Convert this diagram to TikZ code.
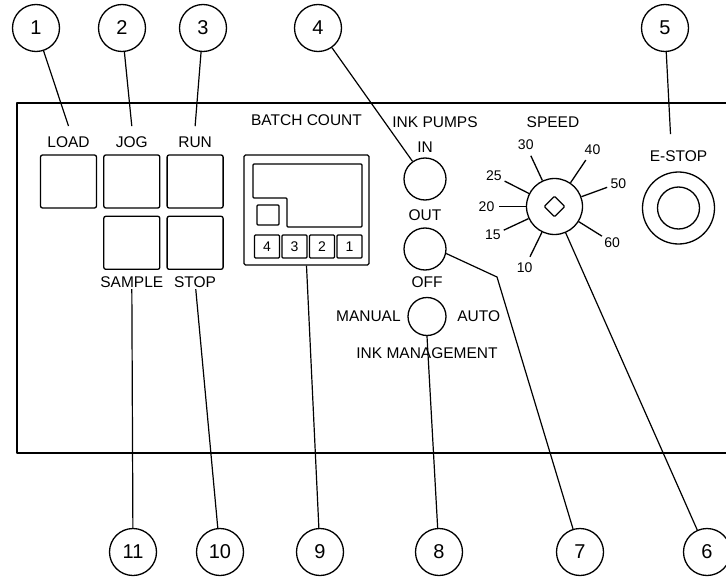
\documentclass[tikz,border=0pt]{standalone}
\usepackage{fontspec}
\setmainfont{Liberation Sans}
\usetikzlibrary{positioning,calc,shapes.geometric}

\begin{document}
\begin{tikzpicture}[x=1pt, y=-1pt,
  line width=1.3pt, line join=round,
  callout/.style={draw, circle, minimum size=47pt, inner sep=0pt, font=\fontsize{20}{20}\selectfont},
  pad/.style={draw, rounded corners=2pt, minimum width=56pt, minimum height=53pt, inner sep=0pt},
  knob/.style={draw, circle, minimum size=42pt, inner sep=0pt},
  lbl/.style={inner sep=1pt, font=\fontsize{15.5}{15.5}\selectfont},
  scalenum/.style={inner sep=0pt, font=\fontsize{14}{14}\selectfont},
  digit/.style={draw, rounded corners=1pt, minimum width=25pt, minimum height=23pt, inner sep=0pt, font=\fontsize{14}{14}\selectfont},
  lead/.style={line width=1.2pt}]
\useasboundingbox (0,0) rectangle (726,578);
\draw[line width=1.6pt] (740,103) -- (17,103) -- (17,453) -- (740,453);
\node[callout] (c1) at (36,28) {1};
\node[callout] (c2) at (122,28) {2};
\node[callout] (c3) at (203,28) {3};
\node[callout] (c4) at (318,28) {4};
\node[callout] (c5) at (665,28) {5};
\node[callout] (c11) at (133,552) {11};
\node[callout] (c10) at (220,552) {10};
\node[callout] (c9) at (320,552) {9};
\node[callout] (c8) at (439,552) {8};
\node[callout] (c7) at (580,552) {7};
\node[callout] (c6) at (707,552) {6};
\node[pad] (load) at (68.5,181.5) {};
\node[pad, right=6pt of load] (jog) {};
\node[pad, right=6pt of jog] (run) {};
\node[pad, below=7pt of jog] (sample) {};
\node[pad, below=7pt of run] (stop) {};
\node[lbl, above=5pt of load] (loadlbl) {LOAD};
\node[lbl, above=5pt of jog] (joglbl) {JOG};
\node[lbl, above=5pt of run] (runlbl) {RUN};
\node[lbl, below=5pt of sample] (samplelbl) {SAMPLE};
\node[lbl, below=5pt of stop] (stoplbl) {STOP};
\node[draw, rounded corners=1.5pt, minimum width=125pt, minimum height=110pt] (bcbox) at (306.5,210) {};
\node[lbl, above=27pt of bcbox] (bclbl) {BATCH COUNT};
\draw[rounded corners=1pt] (253,164) -- (362,164) -- (362,227) -- (287,227) -- (287,198) -- (253,198) -- cycle;
\node[draw, rounded corners=1pt, minimum width=22pt, minimum height=20pt] (bcsmall) at (268,215) {};
\foreach \d [count=\i from 0] in {4,3,2,1}
  \node[digit] (digit\d) at ({267+27.5*\i},246.5) {\d};
\node[lbl] (pumpslbl) at (435,122) {INK PUMPS};
\node[knob] (inkin) at (425,179) {};
\node[lbl, above=3pt of inkin] (inlbl) {IN};
\node[knob] (inkout) at (425,249) {};
\node[lbl, above=5pt of inkout] (outlbl) {OUT};
\node[knob, minimum size=38pt] (mode) at (427,316.5) {};
\node[lbl, above=8pt of mode] (offlbl) {OFF};
\node[lbl, left=5pt of mode] (manuallbl) {MANUAL};
\node[lbl, right=9pt of mode] (autolbl) {AUTO};
\node[lbl, below=10pt of mode] (mgmtlbl) {INK MANAGEMENT};
\node[lbl] (speedlbl) at (553,122) {SPEED};
\node[knob, minimum size=56pt] (dial) at (554.5,206.5) {};
\node[draw, diamond, minimum size=21pt, inner sep=0pt, rounded corners=1pt] (hub) at (dial) {};
\foreach \a/\v in {180/20,153/25,115/30,56/40,20/50,-32/60,-116/10,-155/15} {
  \draw (dial.\a) -- ($(dial.center)+(\a:56pt)$);
  \node[scalenum] at ($(dial.center)+(\a:68pt)$) {\v};
}
\node[draw, circle, minimum size=72pt] (estop) at (678.5,208) {};
\node[draw, circle, minimum size=42pt] (estopcap) at (estop) {};
\node[lbl, above=8pt of estop] (estoplbl) {E-STOP};
\coordinate (bend7) at (497,277);
\draw[lead] (c1) -- ([yshift=9pt]loadlbl.north);
\draw[lead] (c2) -- ([yshift=9pt]joglbl.north);
\draw[lead] (c3) -- ([yshift=9pt]runlbl.north);
\draw[lead] (c4) -- (inkin);
\draw[lead] (c5) -- ([xshift=-8pt,yshift=15pt]estoplbl.north);
\draw[lead] (samplelbl) -- (c11);
\draw[lead] (stoplbl) -- (c10);
\draw[lead] (bcbox.south) -- (c9);
\draw[lead] (mode.south) -- (c8);
\draw[lead] (inkout.-12) -- (bend7) -- (c7);
\draw[lead] (dial.-67) -- (c6);
\end{tikzpicture}
\end{document}
